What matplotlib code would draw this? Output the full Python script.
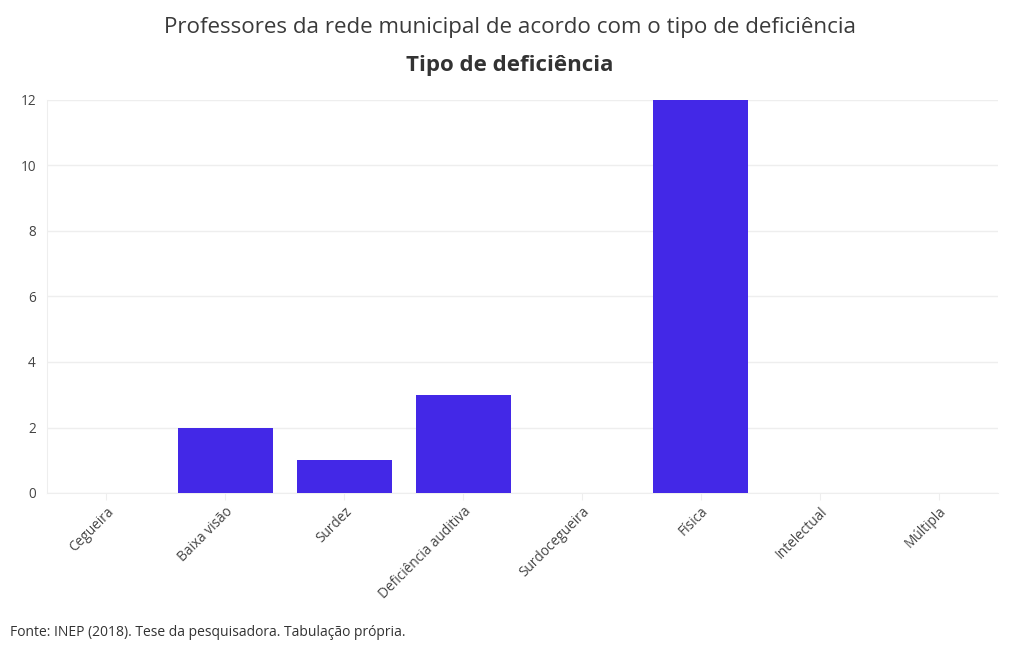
import matplotlib
matplotlib.use("Agg")
import matplotlib.pyplot as plt
import numpy as np

plt.rcParams['font.family'] = ['Open Sans', 'DejaVu Sans']

categorias = ['Cegueira', 'Baixa visão', 'Surdez', 'Deficiência auditiva',
              'Surdocegueira', 'Física', 'Intelectual', 'Múltipla']
professores = [0, 2, 1, 3, 0, 12, 0, 0]

fig = plt.figure(figsize=(10.2, 6.5), dpi=100)
ax = fig.add_axes([47/1020, 1 - 493/650, (998 - 47)/1020, (493 - 100)/650])

x = np.arange(len(categorias))
ax.bar(x, professores, width=0.8, color='#4328E7', zorder=3)

ax.set_xlim(-0.5, len(categorias) - 0.5)
ax.set_ylim(0, 12)
ax.set_yticks([0, 2, 4, 6, 8, 10, 12])
ax.set_xticks(x)
ax.set_xticklabels(categorias, rotation=45, ha='right', rotation_mode='anchor')

ax.grid(axis='y', color='#eeeeee', linewidth=1, zorder=0)
for s in ['top', 'right']:
    ax.spines[s].set_visible(False)
ax.spines['left'].set_color('#eeeeee')
ax.spines['bottom'].set_color('#eeeeee')
ax.tick_params(axis='x', colors='#eeeeee', labelcolor='#444444', labelsize=9.8,
               length=5, pad=3)
ax.tick_params(axis='y', length=0, labelcolor='#444444', labelsize=9.8, pad=8)

fig.text(0.5, 1 - 27/650, 'Professores da rede municipal de acordo com o tipo de deficiência',
         ha='center', va='center', fontsize=16.1, color='#3a3a3a')
fig.text(0.5, 1 - 66/650, 'Tipo de deficiência', ha='center', va='center',
         fontsize=16, fontweight='bold', color='#333333')
fig.text(10/1020, 1 - 632/650, 'Fonte: INEP (2018). Tese da pesquisadora. Tabulação própria.',
         ha='left', va='center', fontsize=10, color='#333333')

fig.savefig('out.png', dpi=100)
